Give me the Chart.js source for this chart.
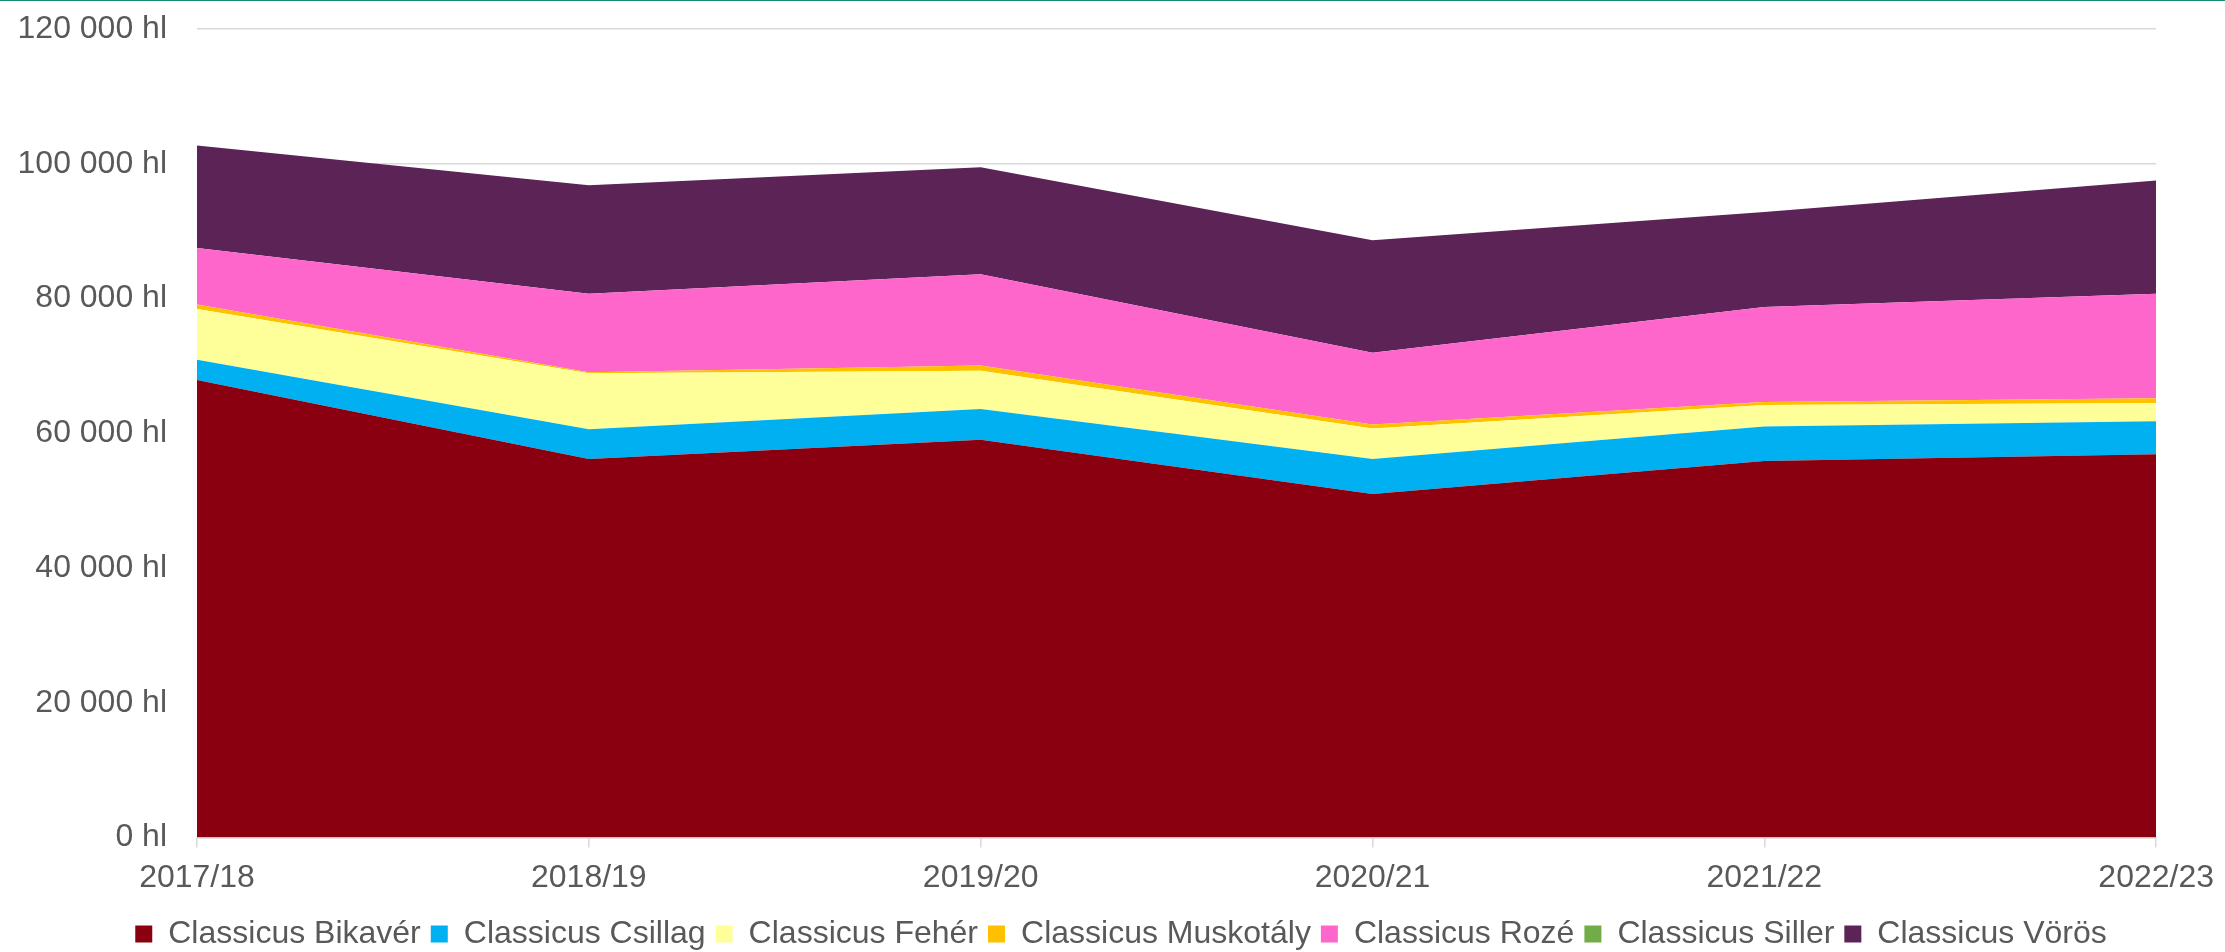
<!DOCTYPE html>
<html>
<head>
<meta charset="utf-8">
<script src="https://cdn.jsdelivr.net/npm/chart.js@4.4.1/dist/chart.umd.min.js"></script>
<style>
  html, body { margin: 0; padding: 0; background: #fff; }
  #wrap { position: relative; width: 2225px; height: 952px; }
  #topline { position: absolute; left: 0; top: 0; width: 2225px; height: 1px; background: #168a73; }
</style>
</head>
<body>
<div id="wrap">
  <canvas id="myChart" width="2225" height="952"></canvas>
  <div id="topline"></div>
</div>
<script>
let labels = ['2017/18', '2018/19', '2019/20', '2020/21', '2021/22', '2022/23'];
let bikaver = [67900, 56200, 59050, 51000, 55900, 56900];
let csillag = [3000, 4400, 4550, 5200, 5100, 4900];
let feher = [7550, 8300, 5700, 4500, 3200, 2700];
let muskotaly = [650, 150, 750, 600, 450, 700];
let roze = [8400, 11650, 13550, 10650, 14100, 15500];
let siller = [0, 0, 0, 0, 0, 0];
let voros = [15200, 16100, 15900, 16700, 14100, 16800];

let names = ['Classicus Bikavér', 'Classicus Csillag', 'Classicus Fehér', 'Classicus Muskotály', 'Classicus Rozé', 'Classicus Siller', 'Classicus Vörös'];
let series = [bikaver, csillag, feher, muskotaly, roze, siller, voros];
let colorHex = ['#8B0011', '#00B0F0', '#FFFF99', '#FFC000', '#FF66CC', '#70AD47', '#5C2356'];

let font = { family: "'Liberation Sans', Arial, sans-serif", size: 32 };

let ctx = document.getElementById('myChart').getContext('2d');
let myChart = new Chart(ctx, {
  type: 'line',
  data: {
    labels: labels,
    datasets: series.map((d, i) => ({
      label: names[i],
      data: d,
      backgroundColor: colorHex[i],
      borderColor: colorHex[i],
      borderWidth: 0,
      pointRadius: 0,
      tension: 0,
      fill: i === 0 ? 'origin' : '-1'
    }))
  },
  options: {
    responsive: false,
    animation: false,
    layout: { padding: { left: 17, top: 29, right: 0, bottom: -8 } },
    plugins: {
      tooltip: { enabled: false },
      legend: {
        position: 'bottom',
        labels: {
          color: '#595959',
          font: font,
          boxWidth: 17,
          boxHeight: 17,
          padding: 10
        }
      }
    },
    scales: {
      x: {
        offset: false,
        grid: { display: true, drawOnChartArea: false, drawTicks: true, tickLength: 10, color: '#d9d9d9', lineWidth: 1.5 },
        border: { display: true, color: '#d9d9d9', width: 1.5 },
        ticks: { color: '#595959', font: font, padding: 11, maxRotation: 0 }
      },
      y: {
        stacked: true,
        min: 0,
        max: 120000,
        afterFit: (scale) => { scale.width = 180; },
        grid: { color: '#d9d9d9', lineWidth: 1.5, drawTicks: true, tickLength: 30, tickColor: 'rgba(0,0,0,0)' },
        border: { display: false },
        ticks: {
          stepSize: 20000,
          color: '#595959',
          font: font,
          padding: 0,
          callback: (value) => value.toString().replace(/\B(?=(\d{3})+(?!\d))/g, ' ') + ' hl'
        }
      }
    }
  }
});
</script>
</body>
</html>
